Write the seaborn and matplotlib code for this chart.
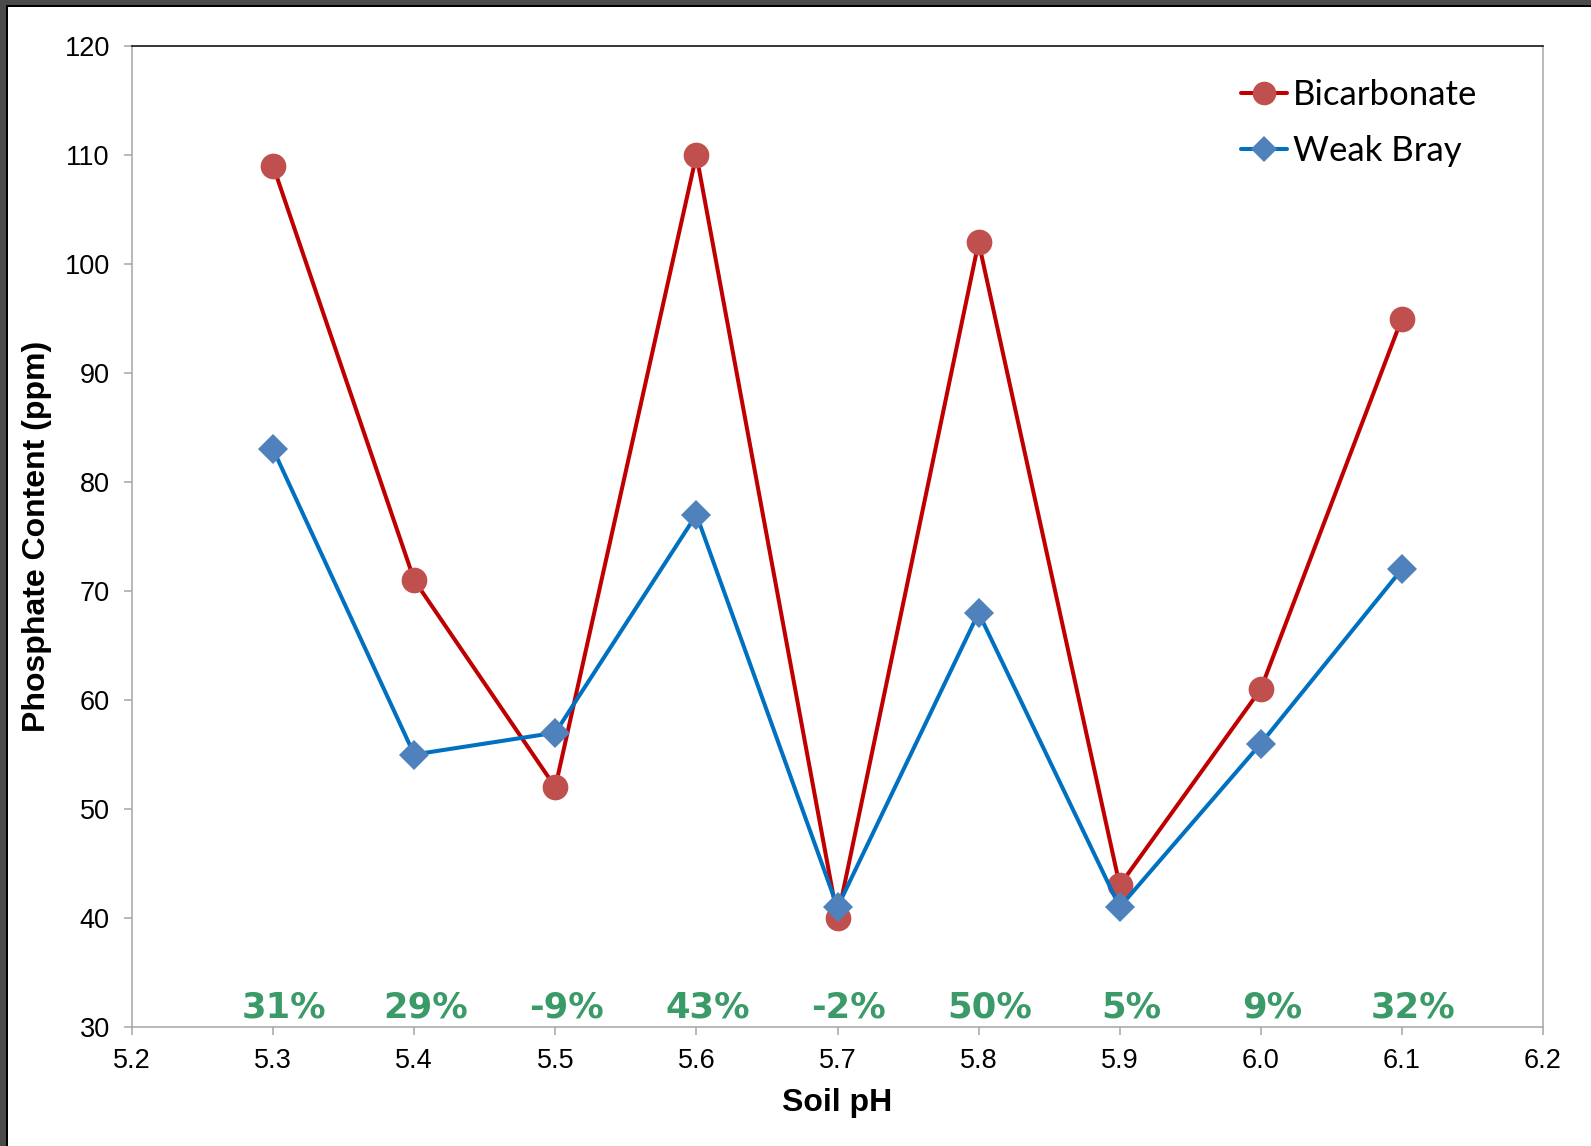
import numpy as np
import pandas as pd
import seaborn as sns
import matplotlib.pyplot as plt
from matplotlib.lines import Line2D
from matplotlib.patches import Rectangle

# Soil pH levels and measured phosphate (ppm) for each extraction method
soil_ph = [5.3, 5.4, 5.5, 5.6, 5.7, 5.8, 5.9, 6.0, 6.1]
bicarbonate = [109, 71, 52, 110, 40, 102, 43, 61, 95]
weak_bray = [83, 55, 57, 77, 41, 68, 41, 56, 72]

x_ticks = [5.2, 5.3, 5.4, 5.5, 5.6, 5.7, 5.8, 5.9, 6.0, 6.1, 6.2]
y_ticks = [30, 40, 50, 60, 70, 80, 90, 100, 110, 120]

df = pd.DataFrame({"pH": soil_ph, "Bicarbonate": bicarbonate, "Weak Bray": weak_bray})

sns.set_theme(style="white")
plt.rcParams["font.family"] = ["Liberation Sans", "DejaVu Sans"]
plt.rcParams["text.color"] = "black"
plt.rcParams["axes.labelcolor"] = "black"

fig = plt.figure(figsize=(15.91, 11.46), dpi=100)
fig.patch.set_facecolor("white")
ax = fig.add_axes([132 / 1591, 1 - 1027 / 1146, 1411 / 1591, 981 / 1146])

# dark frame along the top and left edges
fig.patches.append(Rectangle((0, 1 - 5 / 1146), 1, 5 / 1146, transform=fig.transFigure,
                             facecolor="#4a4a4a", edgecolor="none", zorder=0))
fig.patches.append(Rectangle((0, 1 - 7 / 1146), 1, 2 / 1146, transform=fig.transFigure,
                             facecolor="#000000", edgecolor="none", zorder=0))
fig.patches.append(Rectangle((0, 0), 6 / 1591, 1, transform=fig.transFigure,
                             facecolor="#4a4a4a", edgecolor="none", zorder=0))
fig.patches.append(Rectangle((6 / 1591, 0), 2 / 1591, 1 - 5 / 1146, transform=fig.transFigure,
                             facecolor="#000000", edgecolor="none", zorder=0))

red_line, red_mark = "#C00000", "#C0504D"
blue_line, blue_mark = "#0070C0", "#4F81BD"

sns.lineplot(data=df, x="pH", y="Bicarbonate", ax=ax, color=red_line, linewidth=2.9,
             marker="o", markersize=18.5, markerfacecolor=red_mark, markeredgecolor=red_mark,
             markeredgewidth=0, zorder=3)
sns.lineplot(data=df, x="pH", y="Weak Bray", ax=ax, color=blue_line, linewidth=2.9,
             marker="D", markersize=15, markerfacecolor=blue_mark, markeredgecolor=blue_mark,
             markeredgewidth=0, zorder=4)

# relative difference of bicarbonate over weak bray
for ph, b, w in zip(soil_ph, bicarbonate, weak_bray):
    pct = round((b - w) / w * 100)
    ax.text(ph + 0.008, 30.9, f"{pct}%", ha="center", va="baseline",
            fontsize=25.5, fontweight="bold", color="#3A9A68", family="DejaVu Sans")

ax.set_xlim(5.2, 6.2)
ax.set_ylim(30, 120)
ax.set_xticks(x_ticks)
ax.set_xticklabels([f"{t:.1f}" for t in x_ticks])
ax.set_yticks(y_ticks)
ax.tick_params(axis="both", which="major", labelsize=19.5, colors="#A6A6A6",
               labelcolor="black", length=6, width=1.1, direction="out")
ax.tick_params(axis="x", pad=9)
ax.tick_params(axis="y", pad=10)
ax.tick_params(bottom=True, left=True)

for side in ["left", "right", "bottom"]:
    ax.spines[side].set_color("#A6A6A6")
    ax.spines[side].set_linewidth(1.1)
ax.spines["top"].set_color("#000000")
ax.spines["top"].set_linewidth(1.1)

ax.set_xlabel("Soil pH", fontsize=23, fontweight="bold", labelpad=10)
ax.set_ylabel("Phosphate Content (ppm)", fontsize=23, fontweight="bold", labelpad=9)

handles = [
    Line2D([], [], color=red_line, linewidth=2.9, marker="o", markersize=17,
           markerfacecolor=red_mark, markeredgewidth=0),
    Line2D([], [], color=blue_line, linewidth=2.9, marker="D", markersize=13,
           markerfacecolor=blue_mark, markeredgewidth=0),
]
ax.legend(handles, ["Bicarbonate", "Weak Bray"], loc="upper left",
          bbox_to_anchor=(0.774, 0.984), frameon=False, borderpad=0,
          handlelength=1.3, handletextpad=0.17, labelspacing=0.7,
          prop={"family": "Lato", "size": 25})

fig.savefig("out.png", dpi=100)
